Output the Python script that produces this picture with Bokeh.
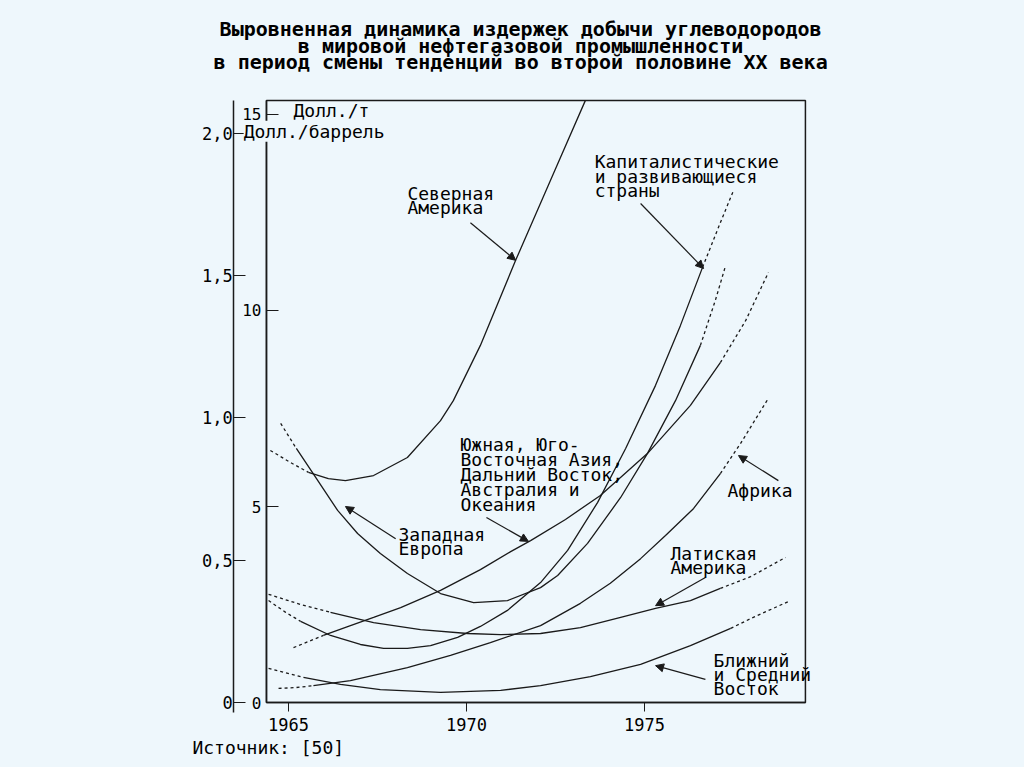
from bokeh.plotting import figure
from bokeh.models import (Range1d, LinearAxis, FixedTicker, Label, Arrow, NormalHead,
                          BoxAnnotation, GlobalInlineStyleSheet)
from bokeh.embed import file_html
from bokeh.resources import INLINE

BG = "#EEF7FC"
INK = "#1a1a1a"
FONT = "DejaVu Sans Mono"

# ---------------- data ----------------
title_lines = [
    "Выровненная динамика издержек добычи углеводородов",
    "в мировой нефтегазовой промышленности",
    "в период смены тенденций во второй половине XX века",
]
source_text = "Источник: [50]"

year_ticks = [1965, 1970, 1975]
ton_ticks = [0, 5, 10, 15]
bbl_ticks = [0, 0.5, 1.0, 1.5, 2.0]
bbl_tick_labels = ["0", "0,5", "1,0", "1,5", "2,0"]
ton_unit = "Долл./т"
bbl_unit = "Долл./баррель"
tons_per_barrel = 7.26   # ratio between the two vertical scales
year_span = (1964.38, 1979.52)   # extent of the chart box
ton_span = (0, 15.36)

# Северная Америка
na_years = [1964.49, 1965.06, 1965.56, 1966.12, 1966.60, 1967.39, 1968.34, 1969.27,
            1969.63, 1970.39, 1971.38, 1972.36, 1973.34]
na_cost = [6.43, 6.12, 5.87, 5.71, 5.66, 5.79, 6.25, 7.19,
           7.70, 9.11, 11.28, 13.32, 15.36]
# Западная Европа
we_years = [1964.78, 1965.22, 1965.67, 1966.38, 1966.94, 1967.58, 1968.34, 1969.27, 1970.20,
            1971.15, 1972.08, 1972.56, 1973.40, 1974.33, 1975.08, 1975.87, 1976.57, 1976.99, 1977.28]
we_cost = [7.12, 6.48, 5.87, 4.90, 4.31, 3.80, 3.29, 2.78, 2.55,
           2.60, 2.93, 3.24, 4.06, 5.23, 6.35, 7.70, 9.11, 10.26, 11.15]
# Капиталистические и развивающиеся страны
cap_years = [1964.44, 1964.92, 1965.34, 1966.18, 1967.02, 1967.67, 1968.34, 1968.99, 1969.75, 1970.39,
             1971.15, 1972.08, 1972.84, 1973.68, 1974.47, 1975.31, 1976.01, 1976.63, 1977.13, 1977.50]
cap_cost = [2.60, 2.30, 2.07, 1.71, 1.48, 1.38, 1.38, 1.45, 1.66, 1.94,
            2.35, 3.06, 3.88, 5.10, 6.48, 8.09, 9.62, 11.10, 12.24, 13.06]
# Южная, Юго-Восточная Азия, Дальний Восток, Австралия и Океания
asia_years = [1965.14, 1965.98, 1966.74, 1967.39, 1968.15, 1969.27, 1970.39, 1971.24, 1971.80,
              1972.78, 1973.76, 1975.08, 1976.29, 1977.13, 1977.84, 1978.48]
asia_cost = [1.40, 1.71, 1.96, 2.17, 2.42, 2.86, 3.39, 3.85, 4.13,
             4.67, 5.28, 6.35, 7.58, 8.67, 9.74, 10.97]
# Африка
af_years = [1964.72, 1965.20, 1965.70, 1966.74, 1968.34, 1969.55, 1970.67, 1972.08, 1973.20,
            1974.04, 1974.89, 1975.59, 1976.38, 1977.13, 1977.70, 1978.48]
af_cost = [0.36, 0.38, 0.43, 0.56, 0.89, 1.20, 1.53, 1.96, 2.53,
           3.04, 3.67, 4.26, 4.95, 5.84, 6.61, 7.76]
# Латинская Америка
la_years = [1964.44, 1965.34, 1966.18, 1967.39, 1968.71, 1970.03, 1970.96, 1972.08, 1973.20,
            1974.33, 1975.31, 1976.29, 1977.13, 1977.98, 1978.96]
la_cost = [2.76, 2.50, 2.30, 2.04, 1.86, 1.76, 1.73, 1.76, 1.91,
           2.17, 2.40, 2.60, 2.91, 3.21, 3.70]
# Ближний и Средний Восток
me_years = [1964.44, 1965.42, 1966.46, 1967.58, 1969.27, 1970.96, 1972.08, 1973.48, 1974.89,
            1976.29, 1977.42, 1977.98, 1979.10]
me_cost = [0.87, 0.64, 0.46, 0.33, 0.26, 0.31, 0.43, 0.66, 0.97,
           1.45, 1.89, 2.14, 2.60]

# (years, values, points in leading dashed part, points in trailing dashed part)
curves = [
    (na_years, na_cost, 3, 0),
    (we_years, we_cost, 2, 2),
    (cap_years, cap_cost, 3, 2),
    (asia_years, asia_cost, 2, 2),
    (af_years, af_cost, 3, 2),
    (la_years, la_cost, 3, 2),
    (me_years, me_cost, 2, 2),
]

# annotation texts: (lines, x, [y of each line]) and arrows (x0, y0, x1, y1)
notes = [
    (["Северная", "Америка"], 1968.34, [12.98, 12.63]),
    (["Капиталистические", "и развивающиеся", "страны"], 1973.60, [13.80, 13.42, 13.06]),
    (["Южная, Юго-", "Восточная Азия,", "Дальний Восток,", "Австралия и", "Океания"],
     1969.83, [6.58, 6.20, 5.82, 5.43, 5.05]),
    (["Западная", "Европа"], 1968.09, [4.29, 3.93]),
    (["Африка"], 1977.33, [5.41]),
    (["Латиская", "Америка"], 1975.73, [3.80, 3.44]),
    (["Ближний", "и Средний", "Восток"], 1976.94, [1.07, 0.71, 0.36]),
]
arrows = [
    (1970.11, 12.24, 1971.38, 11.28),
    (1974.89, 12.73, 1976.66, 11.07),
    (1970.56, 4.72, 1971.74, 4.11),
    (1968.01, 4.18, 1966.60, 5.00),
    (1978.76, 5.66, 1977.64, 6.30),
    (1976.71, 3.19, 1975.31, 2.47),
    (1976.71, 0.59, 1975.31, 0.94),
]

# ---------------- figure ----------------
# the plotting frame covers the whole canvas; axes are placed at fixed positions
y_lo, y_hi = -1.454, 17.908
p = figure(width=1016, height=759, output_backend="svg", toolbar_location=None, title=None,
           x_range=Range1d(1956.910, 1985.449), y_range=Range1d(y_lo, y_hi),
           min_border_left=0, min_border_right=0, min_border_top=0, min_border_bottom=0,
           background_fill_color=BG, border_fill_color=BG)
p.stylesheets = [GlobalInlineStyleSheet(css="html, body { background-color: %s; }" % BG)]
p.xgrid.visible = False
p.ygrid.visible = False
p.outline_line_color = None

# chart box
p.add_layout(BoxAnnotation(left=year_span[0], right=year_span[1], bottom=ton_span[0], top=ton_span[1],
                           fill_color=None, fill_alpha=0, line_color=INK, line_alpha=1.0,
                           line_width=1.5))

# bottom axis
xa = p.xaxis[0]
xa.fixed_location = 0
xa.bounds = year_span
xa.ticker = FixedTicker(ticks=year_ticks)
xa.major_tick_out = 9
xa.major_tick_in = 0
xa.minor_tick_line_color = None
xa.axis_line_color = INK
xa.axis_line_width = 1.5
xa.major_tick_line_color = INK
xa.major_label_standoff = 6
xa.major_label_text_font = FONT
xa.major_label_text_font_size = "17px"
xa.major_label_text_color = "black"

# inner left axis (Долл./т)
ya = p.yaxis[0]
ya.fixed_location = year_span[0]
ya.bounds = ton_span
ya.ticker = FixedTicker(ticks=ton_ticks)
ya.major_tick_in = 12
ya.major_tick_out = 0
ya.minor_tick_line_color = None
ya.axis_line_color = INK
ya.axis_line_width = 1.5
ya.major_tick_line_color = INK
ya.major_label_standoff = 5
ya.major_label_text_font = FONT
ya.major_label_text_font_size = "16px"
ya.major_label_text_color = "black"

# outer left axis (Долл./баррель)
p.extra_y_ranges = {"bbl": Range1d(y_lo / tons_per_barrel, y_hi / tons_per_barrel)}
ob = LinearAxis(y_range_name="bbl")
ob.fixed_location = 1963.46
ob.bounds = (-0.035, ton_span[1] / tons_per_barrel)
ob.ticker = FixedTicker(ticks=bbl_ticks)
ob.major_label_overrides = {t: s for t, s in zip(bbl_ticks, bbl_tick_labels)}
ob.major_tick_in = 12
ob.major_tick_out = 0
ob.minor_tick_line_color = None
ob.axis_line_color = INK
ob.axis_line_width = 1.5
ob.major_tick_line_color = INK
ob.major_label_standoff = 1
ob.major_label_text_font = FONT
ob.major_label_text_font_size = "17px"
ob.major_label_text_color = "black"
p.add_layout(ob, "left")

# curves
for xs, ys, lead, trail in curves:
    n = len(xs)
    end_solid = n - trail if trail else n
    start_solid = lead - 1 if lead else 0
    p.line(xs[start_solid:end_solid], ys[start_solid:end_solid], line_color=INK, line_width=1.3)
    if lead:
        p.line(xs[:lead], ys[:lead], line_color=INK, line_width=1.3, line_dash="3 3")
    if trail:
        p.line(xs[n - trail - 1:], ys[n - trail - 1:], line_color=INK, line_width=1.3, line_dash="3 3")

for lines, x, ys in notes:
    for t, y in zip(lines, ys):
        p.add_layout(Label(x=x, y=y, text=t, text_font=FONT, text_font_size="18px",
                           text_color="black", text_baseline="middle", text_align="left"))

for x0, y0, x1, y1 in arrows:
    p.add_layout(Arrow(x_start=x0, y_start=y0, x_end=x1, y_end=y1, line_color=INK, line_width=1.2,
                       end=NormalHead(size=8, fill_color=INK, line_color=INK)))

# units
p.add_layout(Label(x=1965.14, y=15.10, text=ton_unit, text_font=FONT, text_font_size="18px",
                   text_color="black", text_baseline="middle", text_align="left"))
p.add_layout(Label(x=1963.74, y=14.57, text=bbl_unit, text_font=FONT, text_font_size="18px",
                   text_color="black", text_baseline="middle", text_align="left",
                   background_fill_color=BG, padding=0))

# title and source
for t, y in zip(title_lines, [17.19, 16.76, 16.33]):
    p.add_layout(Label(x=1971.52, y=y, text=t, text_font=FONT, text_font_size="20px",
                       text_font_style="bold", text_color="black",
                       text_baseline="middle", text_align="center"))
p.add_layout(Label(x=1962.30, y=-1.16, text=source_text, text_font=FONT, text_font_size="18px",
                   text_color="black", text_baseline="middle", text_align="left"))

open("out.html", "w").write(file_html(p, INLINE))
